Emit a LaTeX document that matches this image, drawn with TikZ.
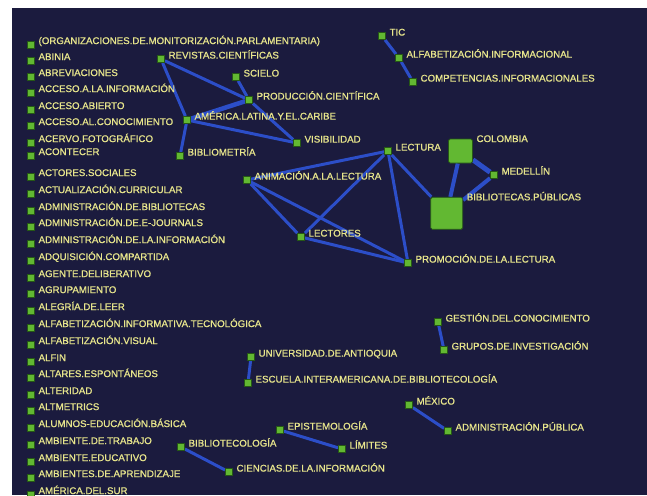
\documentclass[tikz,border=0pt]{standalone}
\usepackage{fontspec}
\setmainfont{Liberation Sans}
\newfontfamily\tagfont[FakeBold=1]{Liberation Sans}
\usetikzlibrary{positioning,backgrounds}

\definecolor{navy}{RGB}{27,27,62}
\definecolor{kwgreen}{RGB}{98,184,50}
\definecolor{kwedge}{RGB}{38,88,22}
\definecolor{kwtext}{RGB}{232,230,140}
\definecolor{linkblue}{RGB}{44,78,200}

\begin{document}
\begin{tikzpicture}[x=1pt,y=-1pt,
    kw/.style={draw=kwedge,line width=0.8pt,fill=kwgreen,minimum size=7pt,inner sep=0pt},
    hub/.style={kw,minimum size=#1,rounded corners=1.5pt},
    tag/.style={text=kwtext,font=\tagfont\fontsize{9.7}{10}\selectfont,inner sep=1pt,
                text height=6.9pt,text depth=0pt},
    link/.style={draw=linkblue,line width=3pt}]
  \useasboundingbox (0,0) rectangle (647,495);
  \begin{scope}[on background layer]
    \fill[navy] (12,8) rectangle (647,495);
  \end{scope}

  % alphabetical list of keywords without links
  \foreach \y/\t [count=\i] in {41/{(ORGANIZACIONES.DE.MONITORIZACIÓN.PARLAMENTARIA)},
      57/ABINIA, 73/ABREVIACIONES, 89/ACCESO.A.LA.INFORMACIÓN, 106/ACCESO.ABIERTO,
      122/ACCESO.AL.CONOCIMIENTO, 139/ACERVO.FOTOGRÁFICO, 152/ACONTECER,
      173/ACTORES.SOCIALES, 190/ACTUALIZACIÓN.CURRICULAR,
      207/ADMINISTRACIÓN.DE.BIBLIOTECAS, 223/ADMINISTRACIÓN.DE.E-JOURNALS,
      240/ADMINISTRACIÓN.DE.LA.INFORMACIÓN, 257/ADQUISICIÓN.COMPARTIDA,
      274/AGENTE.DELIBERATIVO, 290/AGRUPAMIENTO, 307/ALEGRÍA.DE.LEER,
      324/ALFABETIZACIÓN.INFORMATIVA.TECNOLÓGICA, 341/ALFABETIZACIÓN.VISUAL,
      358/ALFIN, 374/ALTARES.ESPONTÁNEOS, 391/ALTERIDAD, 407/ALTMETRICS,
      424/ALUMNOS-EDUCACIÓN.BÁSICA, 441/AMBIENTE.DE.TRABAJO,
      458/AMBIENTE.EDUCATIVO, 474/AMBIENTES.DE.APRENDIZAJE, 491/AMÉRICA.DEL.SUR} {
    \node[kw] (w\i) at (31,\y+3.5) {};
    \node[tag,right=2.5pt of w\i.north east] {\t};
  }

  % keywords of the network
  \foreach \n/\x/\y/\t in {revistas/161/59/REVISTAS.CIENTÍFICAS,
      scielo/236/77/SCIELO, produccion/249/100/PRODUCCIÓN.CIENTÍFICA,
      america/187/120/AMÉRICA.LATINA.Y.EL.CARIBE, bibliometria/180/156/BIBLIOMETRÍA,
      visibilidad/297/143/VISIBILIDAD, tic/382/36/TIC,
      alfabetizacion/399/58/ALFABETIZACIÓN.INFORMACIONAL,
      competencias/413/82/COMPETENCIAS.INFORMACIONALES,
      lectura/388/151/LECTURA, animacion/247/180/ANIMACIÓN.A.LA.LECTURA,
      lectores/301/237/LECTORES, promocion/408/263/PROMOCIÓN.DE.LA.LECTURA,
      medellin/494/175/MEDELLÍN, gestion/438/322/GESTIÓN.DEL.CONOCIMIENTO,
      grupos/444/350/GRUPOS.DE.INVESTIGACIÓN,
      universidad/251/357/UNIVERSIDAD.DE.ANTIOQUIA,
      escuela/248/383/ESCUELA.INTERAMERICANA.DE.BIBLIOTECOLOGÍA,
      mexico/409/405/MÉXICO, administracion/448/431/ADMINISTRACIÓN.PÚBLICA,
      epistemologia/280/430/EPISTEMOLOGÍA, limites/342/449/LÍMITES,
      bibliotecologia/181/447/BIBLIOTECOLOGÍA,
      ciencias/229/472/CIENCIAS.DE.LA.INFORMACIÓN} {
    \node[kw] (\n) at (\x,\y) {};
    \node[tag,right=2.5pt of \n.north east] {\t};
  }
  \node[hub=24pt] (colombia) at (460.5,151) {};
  \node[tag,right=2.5pt of colombia.north east] {COLOMBIA};
  \node[hub=32pt] (bibliotecas) at (446.7,213.3) {};
  \node[tag,right=2.5pt of bibliotecas.north east] {BIBLIOTECAS.PÚBLICAS};

  \begin{scope}[on background layer]
  \begin{scope}[link]
    \draw (revistas) -- (produccion);
    \draw (revistas) -- (america);
    \draw (scielo) -- (produccion);
    \draw[line width=4.5pt] (produccion) -- (america);
    \draw (produccion) -- (visibilidad);
    \draw (america) -- (visibilidad);
    \draw (america) -- (bibliometria);
    \draw (tic) -- (alfabetizacion);
    \draw (alfabetizacion) -- (competencias);
    \draw (lectura) -- (animacion);
    \draw (lectura) -- (lectores);
    \draw (lectura) -- (promocion);
    \draw (lectura) -- (bibliotecas);
    \draw (animacion) -- (lectores);
    \draw (animacion) -- (promocion);
    \draw (lectores) -- (promocion);
    \draw[line width=4pt] (colombia) -- (bibliotecas);
    \draw[line width=5pt] (colombia) -- (medellin);
    \draw[line width=4pt] (medellin) -- (bibliotecas);
    \draw (gestion) -- (grupos);
    \draw (universidad) -- (escuela);
    \draw (mexico) -- (administracion);
    \draw (epistemologia) -- (limites);
    \draw (bibliotecologia) -- (ciencias);
  \end{scope}
  \end{scope}
\end{tikzpicture}
\end{document}
